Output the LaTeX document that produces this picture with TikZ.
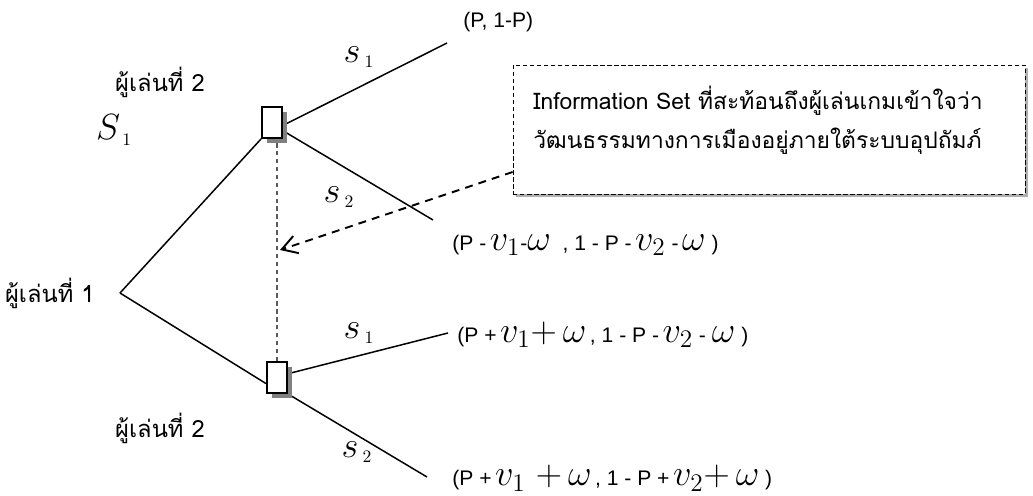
\documentclass[tikz,border=0pt]{standalone}
\usepackage{fontspec}
\setmainfont{Liberation Sans}
\newfontfamily\thaifont[Script=Thai]{Loma}
\usepackage{tikz}
\usetikzlibrary{arrows.meta,positioning,shadows,backgrounds}
\definecolor{gtedge}{RGB}{0,0,0}
\definecolor{gtshade}{RGB}{128,128,128}
\definecolor{gtsoft}{RGB}{175,175,175}
\definecolor{gtiset}{RGB}{90,90,90}
\newcommand{\payv}[1]{{\fontsize{20}{20}\selectfont$#1$}}
\newcommand{\stlab}[2]{{\fontsize{20}{20}\selectfont$#1_{\,\scriptscriptstyle #2}$}}
\tikzset{
  dnode/.style={
    draw=gtedge, line width=1.1pt, fill=white, inner sep=0pt,
    minimum width=0.4cm, minimum height=0.62cm,
    general shadow={fill=gtshade, shadow xshift=0.1cm, shadow yshift=-0.1cm}
  },
  branch/.style={draw=gtedge, line width=0.85pt},
  iset/.style={draw=gtiset, line width=0.6pt, dash pattern=on 2.5pt off 2pt},
  infobox/.style={
    draw=gtedge, line width=0.5pt, dash pattern=on 2.5pt off 1.5pt, fill=white,
    minimum width=10.24cm, minimum height=2.58cm,
    general shadow={fill=gtsoft, shadow xshift=0.06cm, shadow yshift=-0.06cm}
  },
  infotext/.style={font=\thaifont\fontsize{13}{22}\selectfont, align=left, inner sep=0pt, anchor=west},
  pointer/.style={-{Straight Barb[length=0.3cm,width=0.36cm]}, draw=gtedge, line width=1.1pt, dash pattern=on 4.5pt off 3.5pt},
  player/.style={font=\thaifont\fontsize{13.5}{16}\selectfont, inner sep=0pt},
  pay/.style={font=\fontsize{12}{14}\selectfont, inner sep=0pt, anchor=west},
  move/.style={inner sep=0pt}
}
\begin{document}
\begin{tikzpicture}[x=0.02cm, y=-0.02cm]
  \useasboundingbox (0,0) rectangle (1033,496);
  \coordinate (root) at (120,293);
  \node[player, anchor=east] (p1) at (95,293) {ผู้เล่นที่ 1};
  \node[dnode] (du) at (272,122.5) {};
  \node[dnode] (dl) at (277,377.5) {};
  \node[player] (p2u) at (160,82) {ผู้เล่นที่ 2};
  \node[player] (p2l) at (160,428) {ผู้เล่นที่ 2};
  \node[move] (bigs) at (114,130) {\stlab{S}{1}};
  \coordinate (tu1) at (447,43);
  \coordinate (tu2) at (433,220);
  \coordinate (tl1) at (448,333);
  \coordinate (tl2) at (427,477);
  \begin{scope}[on background layer]
    \draw[branch] (root) -- (du.south west);
    \draw[branch] (root) -- (dl.209);
    \draw[branch] (du.-15) -- (tu1);
    \draw[branch] (du.-37) -- (tu2);
    \draw[branch] (dl.19) -- (tl1);
    \draw[branch] (dl.south east) -- (tl2);
    \draw[iset] (dl.north) -- (dl.north |- du.south);
  \end{scope}
  \node[move] (su1) at (359,57) {\stlab{s}{1}};
  \node[move] (su2) at (339,197) {\stlab{s}{2}};
  \node[move] (sl1) at (359,333) {\stlab{s}{1}};
  \node[move] (sl2) at (357,452) {\stlab{s}{2}};
  \node[pay] (pay0) at (463,22) {(P, 1-P)};
  \node[pay] (pay1) at (452,245)
    {(P -\,\payv{v_1}-\payv{\omega}\ \ , 1 - P -\,\payv{v_2} -\,\payv{\omega} )};
  \node[pay] (pay2) at (457,335)
    {(P +\,\payv{v_1{+}\,\omega}\,, 1 - P -\,\payv{v_2} - \payv{\omega} )};
  \node[pay] (pay3) at (452,478)
    {(P +\,\payv{v_1\;{+}\,\omega}\,, 1 - P +\,\payv{v_2{+}\,\omega} )};
  \node[infobox] (info) at (769,129.5) {};
  \node[infotext] (infotxt) at (533,120)
    {Information Set ที่สะท้อนถึงผู้เล่นเกมเข้าใจว่า\\วัฒนธรรมทางการเมืองอยู่ภายใต้ระบบอุปถัมภ์};
  \coordinate (itip) at (280,250);
  \draw[pointer] (info.west |- 0,172) -- (itip);
\end{tikzpicture}
\end{document}
